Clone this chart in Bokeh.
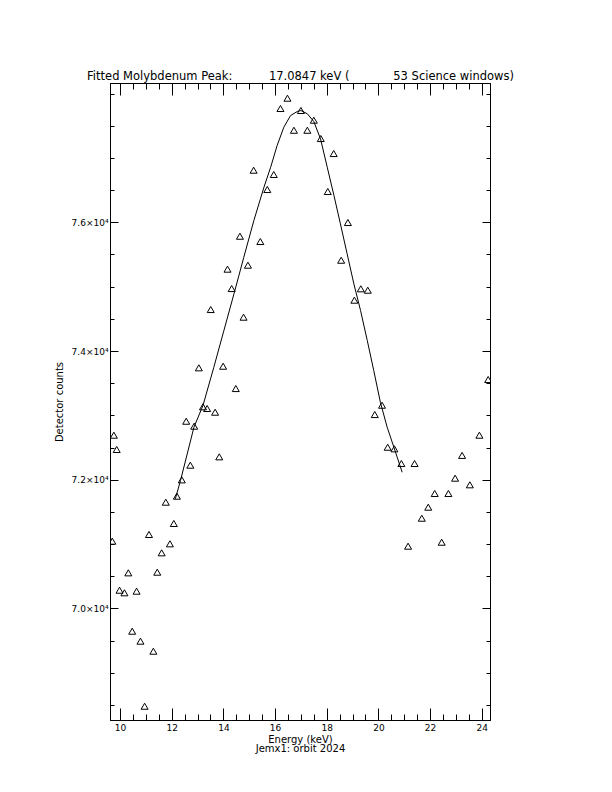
from bokeh.plotting import figure
from bokeh.models import Range1d, FixedTicker, LinearAxis, Title, CustomJSTickFormatter
from bokeh.embed import file_html
from bokeh.resources import INLINE

# Measured data points (keV, detector counts)
energy = [9.68, 9.74, 9.85, 9.96, 10.15, 10.30, 10.45, 10.62, 10.77, 10.93,
          11.10, 11.27, 11.42, 11.59, 11.75, 11.91, 12.06, 12.18, 12.37, 12.54,
          12.70, 12.85, 13.03, 13.19, 13.35, 13.49, 13.66, 13.82, 13.97, 14.14,
          14.30, 14.46, 14.62, 14.76, 14.93, 15.15, 15.41, 15.68, 15.93, 16.19,
          16.46, 16.71, 16.98, 17.23, 17.48, 17.75, 18.02, 18.25, 18.54, 18.80,
          19.05, 19.30, 19.57, 19.84, 20.12, 20.34, 20.60, 20.87, 21.13, 21.38,
          21.66, 21.91, 22.16, 22.43, 22.69, 22.95, 23.22, 23.52, 23.89, 24.23]
counts = [71037, 72684, 72462, 70275, 70235, 70545, 69638, 70260, 69483, 68472,
          71141, 69327, 70555, 70856, 71643, 70996, 71312, 71736, 71990, 72901,
          72218, 72824, 73731, 73125, 73099, 74637, 73041, 72348, 73756, 75264,
          74963, 73409, 75776, 74518, 75326, 76802, 75694, 76502, 76735, 77761,
          77921, 77423, 77730, 77423, 77579, 77294, 76471, 77061, 75403, 75989,
          74782, 74959, 74937, 73005, 73150, 72497, 72472, 72244, 70959, 72244,
          71394, 71565, 71778, 71021, 71778, 72016, 72370, 71913, 72684, 73549]

# Fitted peak curve
fit_energy = [12.12, 12.32, 12.84, 13.19, 13.61, 14.00, 14.39, 14.77, 15.16,
              15.55, 15.81, 16.06, 16.32, 16.58, 16.84, 16.98, 17.23, 17.48,
              17.74, 18.00, 18.26, 18.51, 18.77, 19.03, 19.29, 19.55, 19.80,
              20.06, 20.32, 20.58, 20.90]
fit_counts = [71711, 71995, 72824, 73161, 73756, 74326, 74897, 75465, 76036,
              76553, 76864, 77201, 77486, 77667, 77730, 77745, 77694, 77574,
              77305, 76864, 76424, 75984, 75518, 75052, 74637, 74171, 73705,
              73207, 72824, 72513, 72124]

x_major = [10, 12, 14, 16, 18, 20, 22, 24]
x_minor = [10 + 0.5 * i for i in range(30)]
y_major = [70000, 72000, 74000, 76000]
y_labels = ["7.0\u00d710\u2074", "7.2\u00d710\u2074", "7.4\u00d710\u2074", "7.6\u00d710\u2074"]
y_minor = [68500 + 500 * i for i in range(20)]

X_LO, X_HI = 9.61, 24.32
Y_LO, Y_HI = 68266, 78165

FONT = "DejaVu Sans"
nb = "\u00a0"
title_text = ("Fitted Molybdenum Peak:" + nb * 10 + "17.0847 keV (" + nb * 12 +
              "53 Science windows)")

p = figure(width=596, height=776,
           x_range=Range1d(X_LO, X_HI), y_range=Range1d(Y_LO, Y_HI),
           output_backend="svg", toolbar_location=None,
           min_border_left=110, min_border_right=106,
           min_border_top=83, min_border_bottom=56)
p.title = Title(text=title_text, align="center", text_font=FONT,
                text_font_size="11.5px", text_font_style="normal",
                text_color="black", standoff=2)
p.grid.visible = False
p.outline_line_color = "black"
p.background_fill_color = "white"
p.border_fill_color = "white"

xt = FixedTicker(ticks=x_major, minor_ticks=x_minor)
yt = FixedTicker(ticks=y_major, minor_ticks=y_minor)
blank = CustomJSTickFormatter(code="return ''")


def style_common(ax, labels):
    ax.axis_line_color = "black"
    ax.major_tick_line_color = "black"
    ax.minor_tick_line_color = "black"
    ax.major_tick_out = 0
    ax.minor_tick_out = 0
    ax.major_label_text_font = FONT
    ax.major_label_text_font_size = "9px"
    ax.major_label_text_color = "black"
    if not labels:
        ax.formatter = blank


def style_x(ax, labels=True):
    ax.ticker = xt
    ax.major_tick_in = 12
    ax.minor_tick_in = 6
    ax.major_label_standoff = 3
    style_common(ax, labels)


def style_y(ax, labels=True):
    ax.ticker = yt
    ax.major_tick_in = 8
    ax.minor_tick_in = 4
    ax.major_label_standoff = 2
    style_common(ax, labels)
    if labels:
        ax.major_label_overrides = {v: s for v, s in zip(y_major, y_labels)}


style_x(p.xaxis[0])
p.xaxis[0].axis_label = "Energy (keV)\nJemx1: orbit 2024"
p.xaxis[0].axis_label_text_font = FONT
p.xaxis[0].axis_label_text_font_size = "10px"
p.xaxis[0].axis_label_text_font_style = "normal"
p.xaxis[0].axis_label_text_color = "black"
p.xaxis[0].axis_label_text_line_height = 0.85
p.xaxis[0].axis_label_standoff = 0

style_y(p.yaxis[0])
p.yaxis[0].axis_label = "Detector counts"
p.yaxis[0].axis_label_text_font = FONT
p.yaxis[0].axis_label_text_font_size = "10px"
p.yaxis[0].axis_label_text_font_style = "normal"
p.yaxis[0].axis_label_text_color = "black"
p.yaxis[0].axis_label_standoff = 4

top_ax = LinearAxis()
style_x(top_ax, labels=False)
p.add_layout(top_ax, "above")
right_ax = LinearAxis()
style_y(right_ax, labels=False)
p.add_layout(right_ax, "right")

p.line(fit_energy, fit_counts, line_color="black", line_width=1)
p.scatter(energy, counts, marker="triangle", size=7, fill_color=None,
          line_color="black", line_width=1)

open("out.html", "w").write(file_html(p, INLINE))
